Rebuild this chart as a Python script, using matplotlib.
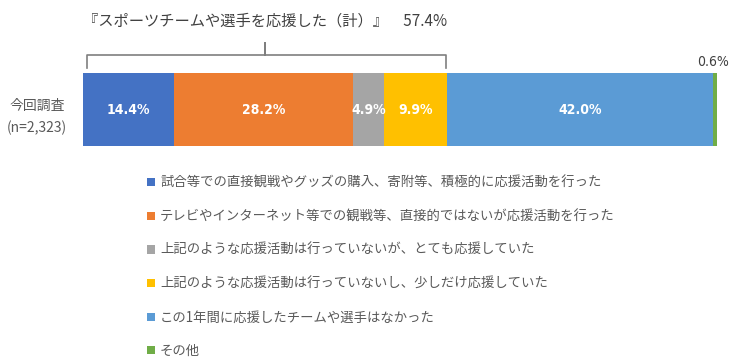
import matplotlib.pyplot as plt
import numpy as np

plt.rcParams['font.family'] = ['Noto Sans CJK JP', 'DejaVu Sans']

labels = [
    "試合等での直接観戦やグッズの購入、寄附等、積極的に応援活動を行った",
    "テレビやインターネット等での観戦等、直接的ではないが応援活動を行った",
    "上記のような応援活動は行っていないが、とても応援していた",
    "上記のような応援活動は行っていないし、少しだけ応援していた",
    "この1年間に応援したチームや選手はなかった",
    "その他",
]
values = [14.4, 28.2, 4.9, 9.9, 42.0, 0.6]
colors = ["#4472C4", "#ED7D31", "#A5A5A5", "#FFC000", "#5B9BD5", "#70AD47"]
row_label = "今回調査\n(n=2,323)"
group_title = "『スポーツチームや選手を応援した（計）』　57.4%"
n_group = 4  # first four segments are covered by the bracket

narrow = ["Liberation Sans Narrow", "DejaVu Sans"]

fig = plt.figure(figsize=(7.4, 3.62), dpi=100)
# bar occupies x 83..717 px, y 73..146 px
ax = fig.add_axes([83 / 740, 1 - 146 / 362, 634 / 740, 73 / 362])
ax.set_xlim(0, 100)
ax.set_ylim(0, 1)
ax.axis("off")

lefts = np.concatenate([[0], np.cumsum(values)[:-1]])
bars = ax.barh(0.5, values, left=lefts, height=1.0, color=colors, edgecolor="none")

for v, l in zip(values[:-1], lefts[:-1]):
    ax.text(l + v / 2, 0.5, f"{v:.1f}%", ha="center", va="center", color="white",
            fontsize=10, fontweight="bold", family=narrow, fontstretch="condensed")
ax.text(lefts[-1] + values[-1] / 2 - 0.4, 1.15, f"{values[-1]:.1f}%", ha="center", va="center",
        color="#404040", fontsize=10, family=narrow, fontstretch="condensed")

# bracket over the "supported" segments
total = sum(values[:n_group])
yb, ye, yt = 1.247, 1.068, 1.41
bx = [0.6, 0.6, total / 2, total / 2, total / 2, total - 0.2, total - 0.2]
by = [ye, yb, yb, yt, yb, yb, ye]
ax.plot(bx, by, color="#7f7f7f", lw=1.2, clip_on=False, solid_joinstyle="round")

ax.text(0, 1.71, group_title, ha="left", va="center", color="#404040", fontsize=11)

fig.text(37 / 740, 1 - 117 / 362, row_label, ha="center", va="center", color="#595959",
         fontsize=10, linespacing=1.6)

leg = fig.legend(bars, labels, loc="upper left", bbox_to_anchor=(147 / 740, 1 - 176 / 362),
                 frameon=False, fontsize=9.6, labelspacing=1.47, handlelength=0.58,
                 handleheight=0.58, handletextpad=0.4, borderpad=0, borderaxespad=0)
for t in leg.get_texts():
    t.set_color("#595959")

fig.savefig("out.png", dpi=100)
